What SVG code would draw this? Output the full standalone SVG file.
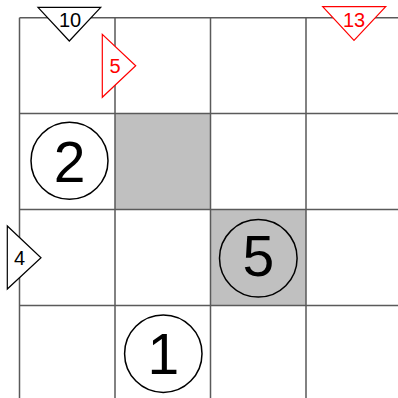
<svg xmlns="http://www.w3.org/2000/svg" width="398" height="398" viewBox="0 0 398 398">
<style>
.grid{stroke:#5a5a5a;stroke-width:1.5;fill:none}
.shade{fill:#c0c0c0}
.tri{fill:#fff;stroke:#000;stroke-width:1.2}
.tri.red{stroke:#ff0000}
.lbl{font-family:"Liberation Sans",Arial,sans-serif;font-size:20px;text-anchor:middle;fill:#000}
.lbl.red{fill:#ff0000}
.circ{fill:none;stroke:#000;stroke-width:1.5}
.num{font-family:"Liberation Sans",Arial,sans-serif;font-size:57px;text-anchor:middle;fill:#000}
</style>
<rect width="398" height="398" fill="#fff"/>
<g id="shading">
<rect class="shade" x="115" y="113.5" width="95.5" height="96"/>
<rect class="shade" x="210.5" y="209.5" width="95.5" height="96"/>
</g>
<g id="grid">
<path class="grid" d="M19.5 17.7V398M115 17.7V398M210.5 17.7V398M306 17.7V398M19.5 17.7H398M19.5 113.5H398M19.5 209.5H398M19.5 305.5H398"/>
</g>
<g id="clue-top-10">
<polygon class="tri" points="38,7.3 100.7,7.3 69.3,41"/>
<text class="lbl" x="70" y="27">10</text>
</g>
<g id="clue-top-13">
<polygon class="tri red" points="322.7,6.7 385.7,6.7 354,40.3"/>
<text class="lbl red" x="354" y="27">13</text>
</g>
<g id="clue-5">
<polygon class="tri red" points="102.3,34.3 102.3,97.3 135.7,65.7"/>
<text class="lbl red" x="115" y="72.5">5</text>
</g>
<g id="clue-left-4">
<polygon class="tri" points="7.3,226 7.3,289 41,257.7"/>
<text class="lbl" x="19.5" y="264.5">4</text>
</g>
<g id="cell-2">
<circle class="circ" cx="69.5" cy="160.8" r="38.5"/>
<text class="num" x="69.5" y="181.5">2</text>
</g>
<g id="cell-5">
<circle class="circ" cx="258.3" cy="258.3" r="38.8"/>
<text class="num" x="258.3" y="276">5</text>
</g>
<g id="cell-1">
<circle class="circ" cx="163.3" cy="353.7" r="38.7"/>
<text class="num" x="163.3" y="373.5">1</text>
</g>
</svg>
